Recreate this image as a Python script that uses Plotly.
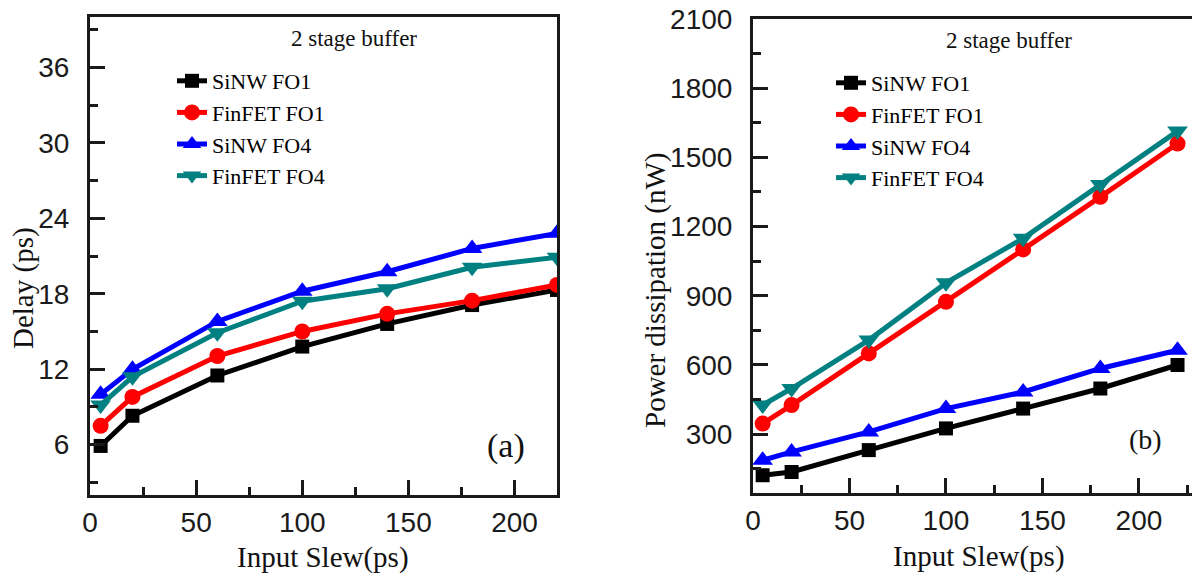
import plotly.graph_objects as go

# Input slew sweep (ps)
slew = [5, 20, 60, 100, 140, 180, 220]

# Delay of the 2 stage buffer (ps)
delay_sinw_fo1 = [5.9, 8.3, 11.5, 13.8, 15.6, 17.1, 18.3]
delay_finfet_fo1 = [7.5, 9.8, 13.05, 15.0, 16.4, 17.45, 18.7]
delay_sinw_fo4 = [10.0, 12.0, 15.8, 18.2, 19.75, 21.6, 22.8]
delay_finfet_fo4 = [9.15, 11.4, 14.9, 17.4, 18.4, 20.1, 20.9]

# Power dissipation of the 2 stage buffer (nW)
power_sinw_fo1 = [122, 136, 231, 325, 411, 498, 600]
power_finfet_fo1 = [346, 426, 650, 874, 1101, 1329, 1560]
power_sinw_fo4 = [187, 223, 310, 411, 483, 585, 664]
power_finfet_fo4 = [426, 498, 708, 956, 1149, 1383, 1614]

series_names = ["SiNW FO1", "FinFET FO1", "SiNW FO4", "FinFET FO4"]
series_colors = ["#000000", "#ff0000", "#0000ff", "#008080"]
series_symbols = ["square", "circle", "triangle-up", "triangle-down"]
series_sizes = [14, 16, 18, 18]

delay_series = [delay_sinw_fo1, delay_finfet_fo1, delay_sinw_fo4, delay_finfet_fo4]
power_series = [power_sinw_fo1, power_finfet_fo1, power_sinw_fo4, power_finfet_fo4]

W, H = 1192, 577
SERIF = "Liberation Serif, Times New Roman, serif"
SANS = "Liberation Sans, Arial, sans-serif"
AX = "#1a1a1a"

fig = go.Figure()

for name, col, sym, sz, ys in zip(series_names, series_colors, series_symbols, series_sizes, delay_series):
    fig.add_trace(go.Scatter(
        x=slew, y=ys, name=name, mode="lines+markers",
        line=dict(color=col, width=5),
        marker=dict(symbol=sym, size=sz, color=col),
        xaxis="x", yaxis="y", legend="legend",
    ))

for name, col, sym, sz, ys in zip(series_names, series_colors, series_symbols, series_sizes, power_series):
    fig.add_trace(go.Scatter(
        x=slew, y=ys, name=name, mode="lines+markers",
        line=dict(color=col, width=5),
        marker=dict(symbol=sym, size=sz, color=col),
        xaxis="x2", yaxis="y2", legend="legend2",
    ))

def px_x(p):
    return p / W

def px_y(p):
    return 1 - p / H

common = dict(
    showline=True, linecolor=AX, linewidth=3,
    ticks="inside", ticklen=15, tickwidth=3, tickcolor=AX,
    tickfont=dict(family=SANS, size=28, color=AX),
    showgrid=False, zeroline=False, automargin=False,
)

fig.update_layout(
    width=W, height=H,
    margin=dict(l=0, r=0, t=0, b=0, autoexpand=False),
    paper_bgcolor="white", plot_bgcolor="white",
    xaxis=dict(domain=[px_x(90), px_x(557)], range=[0, 220], anchor="y",
               tickvals=[0, 50, 100, 150, 200], mirror=True,
               minor=dict(dtick=25, tick0=0, ticks="inside", ticklen=8, tickwidth=3, tickcolor=AX),
               ticklabelstandoff=0, **common),
    yaxis=dict(domain=[px_y(495), px_y(17)], range=[2, 40], anchor="x",
               tickvals=[6, 12, 18, 24, 30, 36], mirror=True,
               minor=dict(dtick=3, tick0=0, ticks="inside", ticklen=8, tickwidth=3, tickcolor=AX),
               ticklabelstandoff=12, **common),
    xaxis2=dict(domain=[px_x(753), 1.0], range=[0, 227.5], anchor="y2",
                tickvals=[0, 50, 100, 150, 200], mirror=True,
                minor=dict(dtick=25, tick0=0, ticks="inside", ticklen=8, tickwidth=3, tickcolor=AX),
                ticklabelstandoff=0, **common),
    yaxis2=dict(domain=[px_y(493), px_y(19)], range=[45, 2100], anchor="x2",
                tickvals=[300, 600, 900, 1200, 1500, 1800, 2100], mirror=False,
                minor=dict(dtick=150, tick0=0, ticks="inside", ticklen=8, tickwidth=3, tickcolor=AX),
                ticklabelstandoff=12, **common),
    legend=dict(x=px_x(172), y=px_y(60), xanchor="left", yanchor="top",
                bgcolor="rgba(0,0,0,0)", font=dict(family=SERIF, size=22, color="#000"),
                tracegroupgap=0, itemwidth=30),
    legend2=dict(x=px_x(831), y=px_y(62), xanchor="left", yanchor="top",
                 bgcolor="rgba(0,0,0,0)", font=dict(family=SERIF, size=22, color="#000"),
                 tracegroupgap=0, itemwidth=30),
    showlegend=True,
)

def label(text, x, y, size, angle=0):
    fig.add_annotation(text=text, x=px_x(x), y=px_y(y), xref="paper", yref="paper",
                       xanchor="center", yanchor="middle", showarrow=False, textangle=angle,
                       font=dict(family=SERIF, size=size, color="#111"))

label("2 stage buffer", 354, 38, 23)
label("2 stage buffer", 1009, 41, 23)
label("(a)", 506, 446, 34)
label("(b)", 1145, 439, 28)
label("Input Slew(ps)", 323, 557, 29)
label("Input Slew(ps)", 979, 556, 29)
label("Delay (ps)", 23, 288, 29, -90)
label("Power dissipation (nW)", 655, 291, 29, -90)

fig.write_html("out.html")
